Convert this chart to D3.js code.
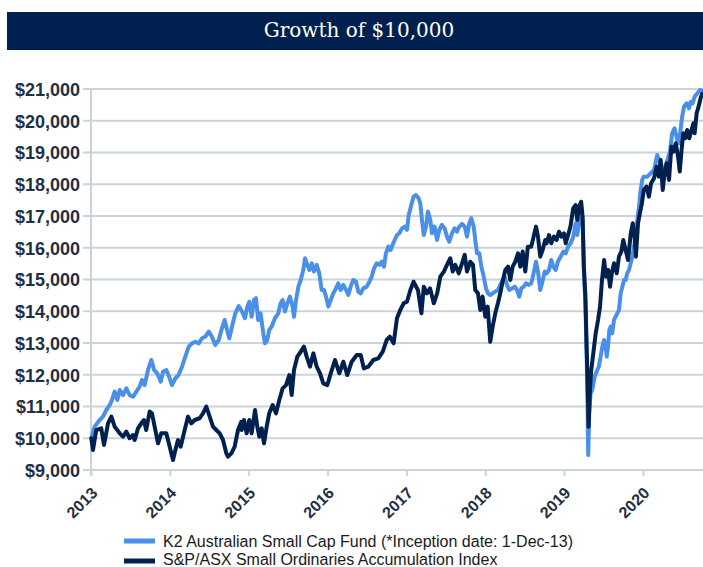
<!DOCTYPE html>
<html><head><meta charset="utf-8">
<script src="https://cdn.jsdelivr.net/npm/d3@7"></script>
<style>body{margin:0;background:#fff}svg{display:block}</style>
</head><body><svg id="c" width="703" height="567"></svg>
<script>
const title = "Growth of $10,000";
const yTicks = [9000,10000,11000,12000,13000,14000,15000,16000,17000,18000,19000,20000,21000];
const xTicks = [2013,2014,2015,2016,2017,2018,2019,2020];
const seriesNames = ["K2 Australian Small Cap Fund (*Inception date: 1-Dec-13)", "S&P/ASX Small Ordinaries Accumulation Index"];

const k2Years = [2013.004,2013.046,2013.11,2013.152,2013.194,2013.237,2013.266,2013.30,2013.334,2013.364,2013.406,2013.448,2013.49,2013.533,2013.575,2013.617,2013.647,2013.68,2013.723,2013.765,2013.80,2013.84,2013.884,2013.913,2013.955,2013.99,2014.027,2014.07,2014.11,2014.154,2014.196,2014.24,2014.28,2014.323,2014.366,2014.408,2014.45,2014.493,2014.534,2014.576,2014.62,2014.66,2014.695,2014.725,2014.754,2014.788,2014.83,2014.873,2014.915,
2014.953,2014.982,2015.007,2015.037,2015.067,2015.092,2015.12,2015.15,2015.185,2015.206,2015.236,2015.26,2015.29,2015.333,2015.375,2015.405,2015.43,2015.46,2015.49,2015.523,2015.557,2015.574,2015.6,2015.63,2015.66,2015.692,2015.714,2015.735,2015.77,2015.8,2015.828,2015.862,2015.895,2015.925,2015.955,2015.98,2016.01,2016.04,2016.073,2016.107,2016.136,2016.166,2016.2,2016.234,2016.263,2016.293,2016.326,2016.36,2016.39,2016.42,2016.453,2016.496,2016.53,2016.56,2016.589,2016.623,2016.656,2016.686,2016.715,2016.74,2016.77,2016.8,2016.833,
2016.88,2016.91,2016.944,2016.978,2017.007,2017.029,2017.062,2017.09,2017.12,2017.155,2017.176,2017.197,2017.22,2017.248,2017.273,2017.303,2017.324,2017.358,2017.388,2017.417,2017.45,2017.485,2017.514,2017.543,2017.578,2017.61,2017.64,2017.67,2017.705,2017.739,2017.768,2017.797,2017.822,2017.853,2017.873,2017.895,2017.924,2017.95,2017.98,2018.009,2018.034,2018.063,2018.093,2018.127,2018.16,2018.19,2018.22,2018.245,2018.275,2018.304,2018.34,2018.373,2018.402,2018.43,2018.457,2018.487,2018.516,2018.55,2018.583,2018.613,2018.643,2018.668,2018.697,2018.72,2018.753,
2018.778,2018.808,2018.837,2018.862,2018.893,2018.92,2018.956,2018.99,2019.02,2019.05,2019.083,2019.116,2019.146,2019.166,2019.19,2019.216,2019.234,2019.25,2019.27,2019.285,2019.297,2019.305,2019.318,2019.335,2019.357,2019.387,2019.42,2019.44,2019.463,2019.484,2019.505,2019.527,2019.54,2019.556,2019.573,2019.59,2019.61,2019.632,2019.653,2019.674,2019.695,2019.717,2019.738,2019.76,2019.78,2019.8,2019.822,2019.844,2019.865,2019.886,2019.907,2019.928,2019.95,2019.97,2019.99,2020.01,2020.055,2020.098,2020.14,2020.18,2020.203,2020.232,2020.266,2020.31,2020.342,2020.37,2020.4,2020.435,2020.455,2020.476,2020.497,2020.52,2020.554,2020.583,2020.605,2020.63,2020.655,2020.69,2020.723,2020.745];
const k2Values = [10000,10365,10575,10680,10890,11045,11205,11470,11205,11520,11360,11570,11360,11310,11470,11625,11835,11675,12150,12465,12150,12045,11780,12095,12150,11940,11675,11890,11990,12255,12570,12885,12990,13040,12990,13150,13200,13360,13200,12940,13095,13460,13725,13410,13150,13515,13935,14165,13990,
13780,14145,14300,13830,14355,14410,13725,13935,13305,12990,13095,13410,13515,13780,13935,14250,14355,13990,14250,14460,14145,13830,14355,14775,14985,15300,15670,15510,15300,15510,15250,15460,15195,14670,14670,14460,14145,14355,14565,14720,14880,14670,14830,14670,14515,14775,14985,14930,14620,14565,14720,14775,14930,15090,15350,15510,15460,15560,15405,15825,16035,15930,16140,
16400,16455,16610,16665,16560,17030,17345,17610,17660,17555,17400,16875,16400,16665,17140,16875,16455,16665,16245,16560,16720,16610,16350,16190,16455,16610,16510,16665,16750,16665,16350,16770,16930,16665,16245,15825,15825,15405,15090,14720,14565,14510,14565,14620,14670,14830,14985,15090,14830,14670,14720,14775,14670,14460,14720,14775,14880,14830,14880,15195,15560,15250,14670,14880,15250,
15195,15300,15615,15405,15300,15560,15720,15880,15825,16035,16140,16350,16770,16400,16820,17140,16875,15300,14145,12675,10995,9470,10785,11415,11520,11940,12150,12255,12570,12885,13095,12885,12570,12885,13410,13515,13305,13725,13830,13935,14040,14565,14775,14985,14985,15195,15300,15510,15720,16035,16350,16875,17295,17820,18135,18240,18240,18345,18450,18920,18765,18555,18450,18765,19025,19605,19760,19395,19290,19710,20130,20445,20550,20390,20600,20550,20760,20865,20970,20950];

const idxYears = [2013.004,2013.025,2013.067,2013.13,2013.165,2013.216,2013.258,2013.30,2013.364,2013.406,2013.448,2013.49,2013.533,2013.554,2013.596,2013.638,2013.672,2013.70,2013.744,2013.773,2013.807,2013.85,2013.89,2013.955,2013.998,2014.04,2014.07,2014.103,2014.137,2014.188,2014.23,2014.272,2014.315,2014.378,2014.42,2014.462,2014.505,2014.547,2014.589,2014.632,2014.674,2014.716,2014.737,2014.78,2014.822,2014.864,2014.906,
2014.91,2014.94,2014.974,2015.007,2015.037,2015.08,2015.109,2015.134,2015.165,2015.194,2015.228,2015.26,2015.304,2015.346,2015.388,2015.43,2015.473,2015.515,2015.545,2015.574,2015.616,2015.66,2015.70,2015.735,2015.777,2015.82,2015.862,2015.904,2015.946,2015.997,2016.04,2016.094,2016.149,2016.20,2016.25,2016.306,2016.37,2016.42,2016.46,2016.517,2016.58,2016.643,2016.70,2016.75,2016.79,
2016.838,2016.88,2016.922,2016.965,2017.007,2017.05,2017.09,2017.146,2017.19,2017.22,2017.26,2017.30,2017.347,2017.39,2017.43,2017.475,2017.514,2017.556,2017.587,2017.62,2017.663,2017.705,2017.739,2017.768,2017.81,2017.844,2017.873,2017.907,2017.937,2017.966,2018.0,2018.03,2018.063,2018.093,2018.127,2018.16,2018.19,2018.22,2018.254,2018.288,2018.317,2018.347,2018.38,2018.415,2018.444,2018.474,2018.507,2018.54,2018.583,2018.613,2018.643,2018.668,2018.697,2018.727,2018.76,
2018.778,2018.808,2018.837,2018.87,2018.905,2018.935,2018.964,2018.998,2019.02,2019.05,2019.08,2019.115,2019.145,2019.166,2019.19,2019.216,2019.234,2019.25,2019.27,2019.285,2019.297,2019.31,2019.327,2019.344,2019.37,2019.40,2019.43,2019.455,2019.48,2019.507,2019.53,2019.557,2019.582,2019.608,2019.633,2019.667,2019.695,2019.725,2019.75,2019.78,2019.81,2019.845,2019.87,2019.895,2019.91,2019.937,2019.96,2019.986,2020.01,2020.045,2020.075,2020.103,2020.14,2020.172,2020.20,2020.224,2020.25,2020.274,2020.30,2020.33,2020.36,2020.385,2020.415,2020.445,2020.466,2020.487,2020.51,2020.537,2020.56,2020.587,2020.61,2020.64,2020.655,2020.68,2020.705,2020.73,2020.75];
const idxValues = [10000,9630,10260,10310,9790,10470,10680,10365,10155,10050,10210,10000,10100,9945,10310,10470,10575,10260,10840,10785,10365,9840,10155,10155,9735,9315,9630,9945,9735,10260,10680,10470,10575,10630,10785,10995,10680,10365,10260,10155,9945,9525,9420,9525,9735,10260,10520,
10260,10575,10155,10575,10155,10890,10365,10050,10310,9840,10365,10785,11045,10785,11205,11570,11675,11990,11360,12150,12570,12725,12885,12570,12255,12675,12255,12045,11730,11675,12045,12465,12045,12410,11990,12410,12620,12620,12200,12255,12465,12515,12725,13095,13200,
12990,13780,14040,14250,14300,14670,14930,14670,13935,14775,14565,14720,14250,14565,15090,15250,15460,15670,15250,15460,15195,15510,15775,15250,15560,15460,14670,14565,14040,14460,13830,14145,13040,13515,13935,14250,14565,14930,15300,15405,14985,15405,15560,15825,15405,15880,15250,16035,16035,16350,16665,16350,15720,15930,16245,
16140,16400,16140,16350,16245,16510,16350,16455,16140,16400,16665,17240,17345,16875,17295,17450,16980,15405,14460,12885,11835,10365,11520,12150,12675,13305,13725,14145,14985,15615,15090,15300,14775,15250,15510,15195,15720,15880,16245,15930,15615,16455,16770,16300,15720,16770,17085,17400,17820,17925,17610,18030,18190,18555,18240,18765,17820,18345,18660,18135,19185,19025,19290,18870,18400,19025,19605,19450,19710,19450,19660,19920,19605,20235,20445,20710,20850];

const colors = {k2: "#4a8fe8", idx: "#00214f", bar: "#00214f", grid: "#cad3dc", label: "#1f2f44"};

const svg = d3.select("#c");
svg.append("rect").attr("width",703).attr("height",567).attr("fill","#fff");

// title bar
svg.append("rect").attr("x",7).attr("y",12).attr("width",696).attr("height",38).attr("fill",colors.bar);
svg.append("text").attr("x",359).attr("y",37).attr("text-anchor","middle")
  .attr("font-family","'DejaVu Serif', serif").attr("font-size",20).attr("fill","#fff").text(title);

const x = d3.scaleLinear().domain([2013, 2020]).range([91, 643]);
const y = d3.scaleLinear().domain([9000, 21000]).range([470, 89]);

// y labels
const yAxis = d3.axisLeft(y).tickValues(yTicks).tickSize(0).tickPadding(0)
  .tickFormat(d => "$" + d3.format(",")(d));
const gy = svg.append("g").attr("transform","translate(80,0)").call(yAxis);
gy.select(".domain").remove();
gy.selectAll("text").attr("font-family","Arial, 'Liberation Sans', sans-serif")
  .attr("font-size",18).attr("font-weight","bold").attr("fill",colors.label).attr("dy","0.35em");

// gridlines
svg.append("g").selectAll("line").data(yTicks).join("line")
  .attr("x1",83).attr("x2",703).attr("y1",d=>y(d)).attr("y2",d=>y(d))
  .attr("stroke",colors.grid).attr("stroke-width",2);
// vertical axis line
svg.append("line").attr("x1",x(2013)).attr("x2",x(2013)).attr("y1",y(21000)-1).attr("y2",y(9000)+6)
  .attr("stroke",colors.grid).attr("stroke-width",2);

// x axis ticks and labels
const xAxis = d3.axisBottom(x).tickValues(xTicks).tickSize(6).tickFormat(d3.format("d"));
const gx = svg.append("g").attr("transform",`translate(0,${y(9000)})`).call(xAxis);
gx.select(".domain").remove();
gx.selectAll(".tick line").attr("stroke",colors.grid).attr("stroke-width",2);
gx.selectAll("text").attr("font-family","Arial, 'Liberation Sans', sans-serif")
  .attr("font-size",16).attr("font-weight","bold").attr("fill",colors.label)
  .attr("text-anchor","end").attr("y",0).attr("dy",0)
  .attr("transform","translate(7,24) rotate(-45)");

// lines
const k2 = k2Years.map((t,i)=>({t, v:k2Values[i]}));
const idx = idxYears.map((t,i)=>({t, v:idxValues[i]}));
const line = d3.line().x(d=>x(d.t)).y(d=>y(d.v));
svg.append("path").datum(k2).attr("d",line).attr("fill","none").attr("stroke",colors.k2)
  .attr("stroke-width",4).attr("stroke-linejoin","round").attr("stroke-linecap","round");
svg.append("path").datum(idx).attr("d",line).attr("fill","none").attr("stroke",colors.idx)
  .attr("stroke-width",4).attr("stroke-linejoin","round").attr("stroke-linecap","round");

// legend
const lg = svg.append("g");
[[seriesNames[0],colors.k2,541,546.5],[seriesNames[1],colors.idx,561,565]].forEach(([name,c,yy,base])=>{
  lg.append("line").attr("x1",124).attr("x2",155).attr("y1",yy).attr("y2",yy).attr("stroke",c).attr("stroke-width",5);
  lg.append("text").attr("x",163).attr("y",base).attr("font-family","Arial, 'Liberation Sans', sans-serif")
    .attr("font-size",16).attr("fill","#1a1a1a").text(name);
});
</script></body></html>
